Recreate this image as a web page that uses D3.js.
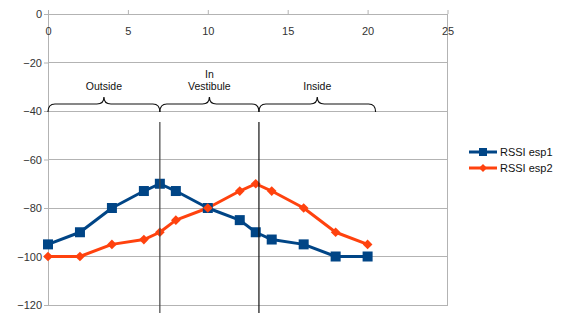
<!DOCTYPE html>
<html><head><meta charset="utf-8">
<script src="https://cdn.jsdelivr.net/npm/d3@7"></script>
<style>body{margin:0;background:#fff}svg{display:block;font-family:"Liberation Sans",Arial,sans-serif}</style>
</head><body><svg id="c" width="567" height="313"></svg>
<script>
const xs = [0,2,4,6,7,8,10,12,13,14,16,18,20];
const esp1 = [-95,-90,-80,-73,-70,-73,-80,-85,-90,-93,-95,-100,-100];
const esp2 = [-100,-100,-95,-93,-90,-85,-80,-73,-70,-73,-80,-90,-95];
const seriesNames = ["RSSI esp1","RSSI esp2"];
const xTicks = [0,5,10,15,20,25];
const yTicks = [0,-20,-40,-60,-80,-100,-120];
const zones = [{from:0,to:7,label:["Outside"]},{from:7,to:13.2,label:["In","Vestibule"]},{from:13.2,to:20.5,label:["Inside"]}];
const markers = [7,13.2];

const svg = d3.select("#c");
const x = d3.scaleLinear().domain([0,25]).range([48,447.5]);
const y = d3.scaleLinear().domain([0,-120]).range([14,305]);

// gridlines
svg.append("g").selectAll("line").data(yTicks).join("line")
  .attr("x1",x(0)).attr("x2",x(25)).attr("y1",d=>y(d)).attr("y2",d=>y(d))
  .attr("stroke","#b3b3b3").attr("stroke-width",1).attr("shape-rendering","crispEdges");
// right border
svg.append("line").attr("x1",x(25)).attr("x2",x(25)).attr("y1",y(0)).attr("y2",y(-120))
  .attr("stroke","#b3b3b3").attr("shape-rendering","crispEdges");

// y axis
const ya = svg.append("g").attr("transform",`translate(${x(0)},0)`)
  .call(d3.axisLeft(y).tickValues(yTicks).tickSize(4).tickFormat(d3.format("d")));
ya.select(".domain").attr("stroke","#b3b3b3");
ya.selectAll(".tick line").attr("stroke","#b3b3b3");
ya.selectAll(".tick text").attr("font-size",11).attr("fill","#333").attr("font-family","Liberation Sans, Arial, sans-serif").attr("x",-6);

// x axis (at top, labels below line)
const xa = svg.append("g").attr("transform",`translate(0,${y(0)})`)
  .call(d3.axisTop(x).tickValues(xTicks).tickSize(4).tickFormat(d3.format("d")));
xa.select(".domain").remove();
xa.selectAll(".tick line").attr("stroke","#b3b3b3");
xa.selectAll(".tick text").attr("font-size",11).attr("fill","#333").attr("font-family","Liberation Sans, Arial, sans-serif").attr("y",21).attr("dy","0");

// series
const colors = ["#004586","#ff420e"];
const data = [esp1,esp2];
const line = d3.line().x((d,i)=>x(xs[i])).y(d=>y(d));
data.forEach((s,k)=>{
  svg.append("path").datum(s).attr("d",line).attr("fill","none").attr("stroke",colors[k]).attr("stroke-width",3).attr("stroke-linejoin","round");
});
svg.append("g").selectAll("rect").data(esp1).join("rect")
  .attr("x",(d,i)=>x(xs[i])-5).attr("y",d=>y(d)-5).attr("width",10).attr("height",10).attr("fill",colors[0]);
const dia = d3.symbol().type(d3.symbolDiamond2).size(60);
svg.append("g").selectAll("path").data(esp2).join("path")
  .attr("d",dia).attr("transform",(d,i)=>`translate(${x(xs[i])},${y(d)})`).attr("fill",colors[1]);

// vertical markers
svg.append("g").selectAll("line").data(markers).join("line")
  .attr("x1",d=>x(d)).attr("x2",d=>x(d)).attr("y1",122).attr("y2",313)
  .attr("stroke",(d,i)=>i===0?"#444":"#111").attr("stroke-width",1.2);

// braces
const by = 104;
function brace(x1,x2){
  const m=(x1+x2)/2, r=7;
  return `M${x1},${by+8} Q${x1},${by} ${x1+r},${by} L${m-r},${by} Q${m},${by} ${m},${by-7} Q${m},${by} ${m+r},${by} L${x2-r},${by} Q${x2},${by} ${x2},${by+8}`;
}
const zg = svg.append("g");
zones.forEach(z=>{
  const x1=x(z.from), x2=x(z.to);
  zg.append("path").attr("d",brace(x1,x2)).attr("fill","none").attr("stroke","#111").attr("stroke-width",1.2);
  const t = zg.append("text").attr("text-anchor","middle").attr("font-size",10.5).attr("fill","#111");
  const n=z.label.length;
  z.label.forEach((l,i)=>t.append("tspan").attr("x",(x1+x2)/2).attr("y",90-(n-1-i)*12.5).text(l));
});

// legend
const lg = svg.append("g");
seriesNames.forEach((n,k)=>{
  const ly = 152 + k*16;
  lg.append("line").attr("x1",469).attr("x2",497).attr("y1",ly).attr("y2",ly).attr("stroke",colors[k]).attr("stroke-width",3);
  if(k===0) lg.append("rect").attr("x",479).attr("y",ly-4).attr("width",8).attr("height",8).attr("fill",colors[0]);
  else lg.append("path").attr("d",d3.symbol().type(d3.symbolDiamond2).size(40)).attr("transform",`translate(483,${ly})`).attr("fill",colors[1]);
  lg.append("text").attr("x",500).attr("y",ly+4).attr("font-size",11).attr("fill","#111").text(n);
});
</script></body></html>
